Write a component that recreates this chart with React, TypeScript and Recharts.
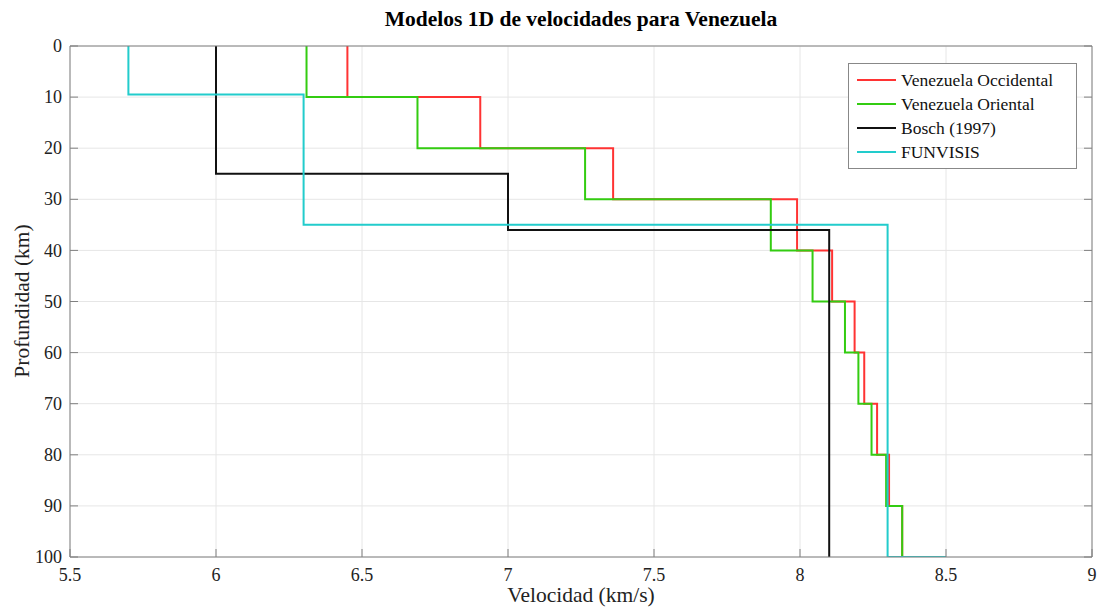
import { LineChart, Line, XAxis, YAxis, CartesianGrid } from "recharts";

const velTicks = [5.5, 6, 6.5, 7, 7.5, 8, 8.5, 9];
const depthTicks = [0, 10, 20, 30, 40, 50, 60, 70, 80, 90, 100];

// layer boundaries (km) and velocities (km/s)
const occBounds = [0, 10, 20, 30, 40, 50, 60, 70, 80, 90, 100];
const occVel = [6.45, 6.905, 7.36, 7.99, 8.11, 8.187, 8.22, 8.264, 8.305, 8.35];

const oriBounds = [0, 10, 20, 30, 40, 50, 60, 70, 80, 90, 100];
const oriVel = [6.31, 6.69, 7.264, 7.9, 8.043, 8.154, 8.2, 8.245, 8.295, 8.35];

const boschBounds = [0, 25, 36, 100];
const boschVel = [6.0, 7.0, 8.1];

const funvBounds = [0, 9.5, 35, 100, 100];
const funvVel = [5.7, 6.3, 8.3, 8.5];

const toSteps = (bounds: number[], vel: number[]) =>
    vel.flatMap((v, i) => [
        { v, d: bounds[i] },
        { v, d: bounds[i + 1] },
    ]);

const series = [
    { name: "Venezuela Occidental", color: "#FF3333", data: toSteps(occBounds, occVel) },
    { name: "Venezuela Oriental", color: "#33CC11", data: toSteps(oriBounds, oriVel) },
    { name: "Bosch (1997)", color: "#111111", data: toSteps(boschBounds, boschVel) },
    { name: "FUNVISIS", color: "#22CCCC", data: toSteps(funvBounds, funvVel) },
];

const FONT = "'Liberation Serif', 'Times New Roman', serif";
const AXIS = "#808080";

const XTick = ({ x, y, payload }: any) => (
    <text x={x} y={y} dy="0.71em" textAnchor="middle" fontFamily={FONT} fontSize={18} fill="#222">
        {payload.value}
    </text>
);

const YTick = ({ x, y, payload }: any) => (
    <text x={x} y={y} dy="0.34em" textAnchor="end" fontFamily={FONT} fontSize={18} fill="#222">
        {payload.value}
    </text>
);

const noLabel = () => <g />;

const App = () => {
    return (
        <div style={{ position: "absolute", left: 0, top: 0, width: 1097, height: 609, background: "#fff" }}>
            <div
                style={{
                    position: "absolute",
                    left: 70,
                    width: 1022,
                    top: 7,
                    textAlign: "center",
                    fontFamily: FONT,
                    fontWeight: "bold",
                    fontSize: 21.5,
                    color: "#000",
                }}
            >
                Modelos 1D de velocidades para Venezuela
            </div>
            <LineChart width={1097} height={609} margin={{ top: 45, right: 4, bottom: 22, left: 10 }}>
                <CartesianGrid stroke="#e6e6e6" />
                <XAxis
                    dataKey="v"
                    type="number"
                    domain={[5.5, 9]}
                    ticks={velTicks}
                    allowDataOverflow
                    height={30}
                    stroke={AXIS}
                    tickSize={-8}
                    tickMargin={19}
                    tick={XTick}
                />
                <XAxis
                    xAxisId="top"
                    orientation="top"
                    type="number"
                    domain={[5.5, 9]}
                    ticks={velTicks}
                    allowDataOverflow
                    height={1}
                    stroke={AXIS}
                    tickSize={-8}
                    tick={noLabel}
                />
                <YAxis
                    type="number"
                    reversed
                    domain={[0, 100]}
                    ticks={depthTicks}
                    allowDataOverflow
                    width={60}
                    stroke={AXIS}
                    tickSize={-8}
                    tickMargin={16}
                    tick={YTick}
                />
                <YAxis
                    yAxisId="right"
                    orientation="right"
                    type="number"
                    reversed
                    domain={[0, 100]}
                    ticks={depthTicks}
                    allowDataOverflow
                    width={1}
                    stroke={AXIS}
                    tickSize={-8}
                    tick={noLabel}
                />
                {series.map((s) => (
                    <Line
                        key={s.name}
                        name={s.name}
                        data={s.data}
                        dataKey="d"
                        type="linear"
                        stroke={s.color}
                        strokeWidth={2}
                        dot={false}
                        activeDot={false}
                        isAnimationActive={false}
                    />
                ))}
            </LineChart>

            {/* legend */}
            <div
                style={{
                    position: "absolute",
                    left: 848,
                    top: 63,
                    width: 210,
                    border: "1px solid #888",
                    background: "#fff",
                    padding: "4px 9px 4px 8px",
                    fontFamily: FONT,
                    fontSize: 17.5,
                    color: "#111",
                }}
            >
                {series.map((s) => (
                    <div key={s.name} style={{ display: "flex", alignItems: "center", height: 24 }}>
                        <span style={{ display: "inline-block", width: 39, height: 2, background: s.color, marginRight: 5 }} />
                        <span>{s.name}</span>
                    </div>
                ))}
            </div>

            <div
                style={{
                    position: "absolute",
                    left: 70,
                    width: 1022,
                    top: 583,
                    textAlign: "center",
                    fontFamily: FONT,
                    fontSize: 21.5,
                    color: "#222",
                }}
            >
                Velocidad (km/s)
            </div>
            <div
                style={{
                    position: "absolute",
                    left: 22,
                    top: 301,
                    transform: "translate(-50%, -50%) rotate(-90deg)",
                    whiteSpace: "nowrap",
                    fontFamily: FONT,
                    fontSize: 21.5,
                    color: "#222",
                }}
            >
                Profundidad (km)
            </div>
        </div>
    );
};

export default App;
